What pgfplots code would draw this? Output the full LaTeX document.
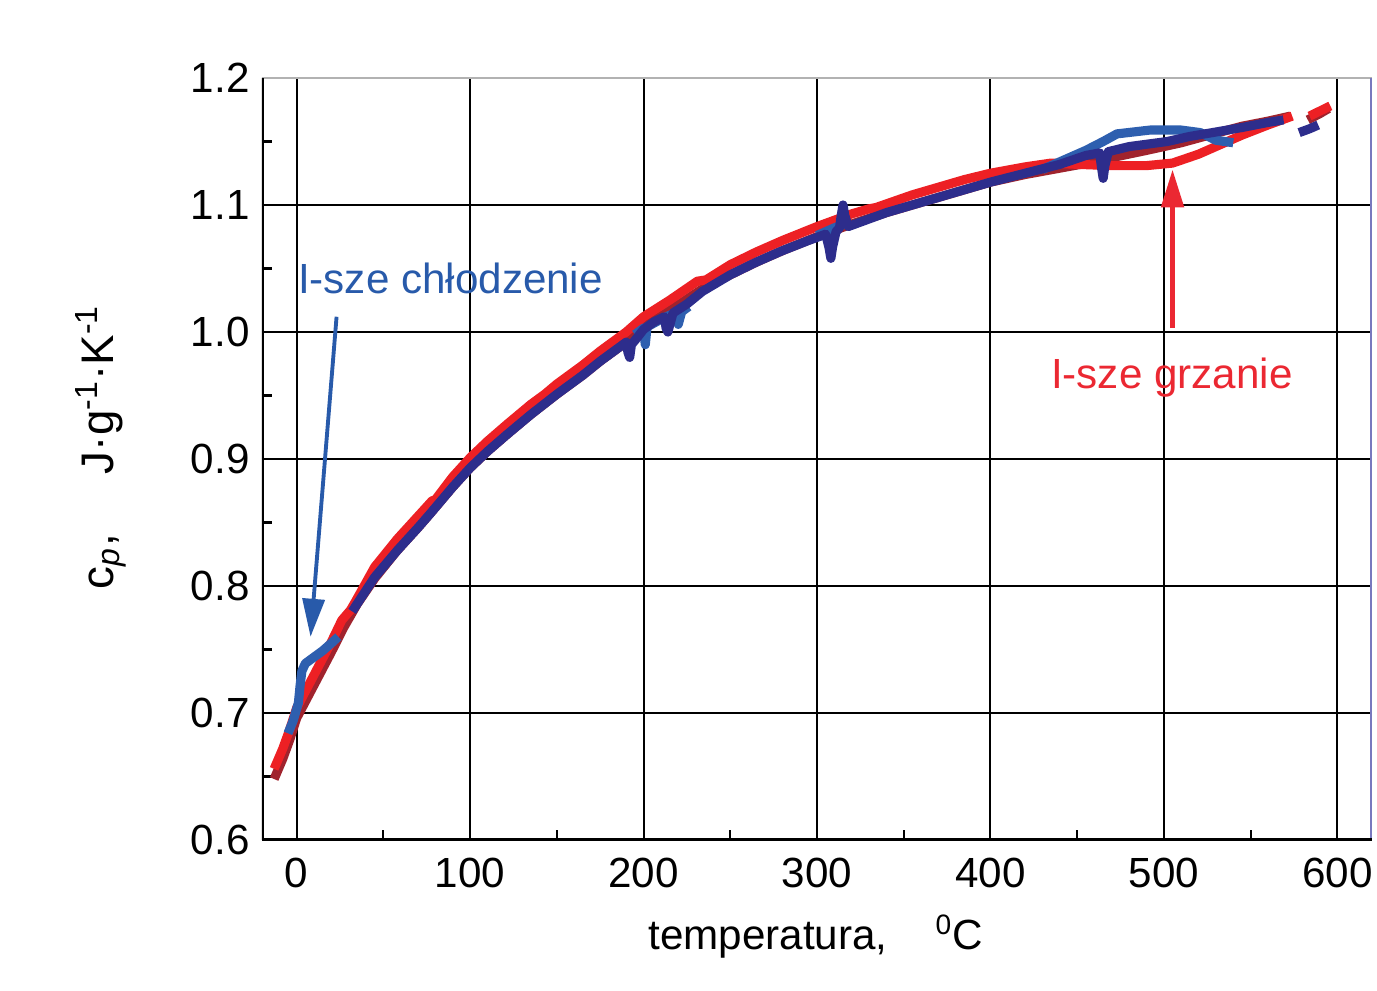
\documentclass[border=0pt]{standalone}
\usepackage{pgfplots}
\pgfplotsset{compat=1.18}
\usepackage{fontspec}
\setmainfont{Liberation Sans}
\usetikzlibrary{arrows.meta}
\definecolor{cred}{RGB}{237,32,36}
\definecolor{cdred}{RGB}{160,35,45}
\definecolor{cblue}{RGB}{46,95,175}
\definecolor{cnavy}{RGB}{45,45,140}
\definecolor{annblue}{RGB}{40,90,170}
\definecolor{annred}{RGB}{235,40,50}
\definecolor{frameblue}{RGB}{120,120,190}
\begin{document}
\begin{tikzpicture}
\begin{axis}[
  scale only axis, width=11.1cm, height=7.62cm,
  xmin=-20, xmax=620, ymin=0.6, ymax=1.2,
  xtick={0,100,200,300,400,500,600},
  ytick={0.6,0.7,0.8,0.9,1.0,1.1,1.2},
  minor xtick={50,150,250,350,450,550},
  minor ytick={0.65,0.75,0.85,0.95,1.05,1.15},
  grid=major, major grid style={black, line width=0.6pt},
  tick pos=left, tick align=inside,
  major tick length=0pt, minor tick length=1mm,
  tick style={black, line width=0.6pt},
  axis line style={draw=none},
  unbounded coords=jump,
  /pgf/number format/assume math mode=true,
  yticklabel style={/pgf/number format/.cd, fixed, fixed zerofill, precision=1},
  xticklabel style={inner sep=0.5pt, yshift=-4.3pt},
  tick label style={font=\fontsize{12}{14}\selectfont},
  xlabel style={font=\fontsize{12}{14}\selectfont},
  ylabel style={font=\fontsize{13}{15}\selectfont},
  xlabel={temperatura,\hspace{4.8mm}\textsuperscript{0}C},
  ylabel={c\textsubscript{\textit{p}},\hspace{6mm}J·g\textsuperscript{-1}·K\textsuperscript{-1}},
  xlabel style={at={(axis description cs:0.499,-0.127)}, anchor=center},
  ylabel style={at={(axis description cs:-0.145,0.516)}, anchor=center},
]
% dark red (heating, second)
\addplot[cdred, line width=2.6pt, line join=round] coordinates {
(-13,0.648) (-8,0.664) (-4,0.679) (0,0.696) (5,0.709) (10,0.722) (15,0.735) (20,0.748) (27,0.767) (35,0.786) (45,0.806) (58,0.828) (70,0.846) (77,0.857) (90,0.878) (100,0.893) (110,0.906) (121,0.919) (135,0.935) (150,0.951) (165,0.966) (175,0.977) (190,0.992) (200,1.004) (215,1.017) (234,1.034) (250,1.045) (265,1.055) (280,1.064) (300,1.075) (320,1.085) (340,1.094) (355,1.100) (370,1.106) (385,1.112) (400,1.118) (420,1.124) (440,1.129) (460,1.134) (469,1.137) (490,1.143) (510,1.149) (526,1.155) (545,1.162) (560,1.166) (573,1.170) (578,nan) (583,1.167) (590,1.172) (595,1.176)
};
% red (heating)
\addplot[cred, line width=2.6pt, line join=round] coordinates {
(-13,0.656) (-8,0.672) (-4,0.687) (0,0.704) (5,0.717) (10,0.730) (15,0.743) (20,0.756) (26,0.773) (31,0.781)
(34,0.788) (45,0.815) (58,0.837) (70,0.855) (78,0.867)
(80,0.868) (90,0.886) (100,0.901) (110,0.914) (121,0.927) (135,0.943) (140,0.948)
(143,0.951) (150,0.959) (165,0.974) (175,0.985) (190,1.000) (200,1.012) (215,1.025) (231,1.040)
(236,1.041) (250,1.053) (265,1.063) (280,1.072) (300,1.083) (320,1.093) (330,1.097)
(334,1.098) (355,1.108) (370,1.114) (385,1.120) (400,1.125) (420,1.130) (435,1.133) (450,1.132) (470,1.131) (490,1.131) (505,1.133) (520,1.140) (530,1.146) (545,1.155) (560,1.163) (574,1.170) (575,nan)
(584,1.170) (590,1.174) (596,1.178)
};
% light blue (cooling)
\addplot[cblue, line width=2.6pt, line join=round] coordinates {
(-5,0.684) (-2,0.694) (1,0.708) (2,0.722) (3,0.733) (5,0.739) (10,0.744) (15,0.749) (20,0.755) (24,0.760) (25,nan)
(195,0.998) (200,1.003) (201,0.990) (202,1.004) (210,1.010) (218,1.015) (220,1.006) (222,1.016) (226,1.020) (227,nan)
(300,1.076) (305,1.079) (310,1.082) (318,1.086) (319,nan)
(430,1.128) (440,1.134) (455,1.143) (465,1.150) (473,1.156) (492,1.159) (510,1.159) (521,1.157) (530,1.151) (540,1.149)
};
% navy (cooling, second)
\addplot[cnavy, line width=2.6pt, line join=round] coordinates {
(32,0.780) (45,0.807) (58,0.828) (70,0.846) (77,0.857) (90,0.878) (100,0.893) (110,0.906) (121,0.919) (135,0.935) (150,0.951) (165,0.966) (175,0.977) (186,0.988) (190,0.992) (191,0.984) (192,0.980) (193,0.990) (196,0.995) (200,1.002) (206,1.008) (212,1.012) (213,1.003) (214,1.000) (215,1.005) (217,1.015) (225,1.022) (234,1.032) (250,1.045) (265,1.055) (280,1.064) (295,1.072) (305,1.077) (307,1.066) (308,1.058) (309,1.067) (311,1.079) (313,1.082) (314,1.092) (315,1.100) (316,1.092) (318,1.083) (322,1.085) (330,1.089) (340,1.094) (355,1.100) (370,1.106) (385,1.112) (400,1.118) (420,1.125) (440,1.132) (455,1.139) (463,1.141) (464,1.130) (465,1.121) (466,1.131) (468,1.142) (480,1.146) (502,1.150) (515,1.154) (528,1.157) (545,1.161) (560,1.165) (569,1.167) (573,nan) (578,1.157) (584,1.160) (589,1.163)
};
% annotations
\draw[annblue, line width=1.1pt, -{Triangle[length=3.8mm,width=2.2mm]}] (axis cs:23,1.012) -- (axis cs:8,0.760);
\draw[annred, line width=1.5pt, -{Triangle[length=3.8mm,width=2.2mm]}] (axis cs:505,1.003) -- (axis cs:505,1.128);
\node[annblue, font=\fontsize{12}{14}\selectfont] at (axis cs:88.7,1.0425) {I-sze chłodzenie};
\node[annred, font=\fontsize{12}{14}\selectfont] at (axis cs:504.6,0.964) {I-sze grzanie};
% frame
\draw[gray!60, line width=0.8pt] (rel axis cs:0,1) -- (rel axis cs:1,1);
\draw[frameblue, line width=0.9pt] (rel axis cs:1,0) -- (rel axis cs:1,1);
\draw[black, line width=1pt] (rel axis cs:0,1) -- (rel axis cs:0,0) -- (rel axis cs:1,0);
\end{axis}
\path ([shift={(-2.62cm,-1.51cm)}]current axis.south west) rectangle ([shift={(0.05cm,0.78cm)}]current axis.north east);
\end{tikzpicture}
\end{document}
